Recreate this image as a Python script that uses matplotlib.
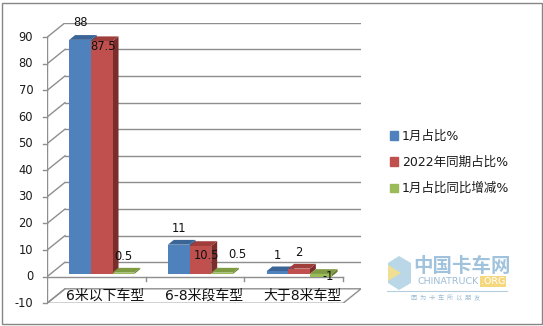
import matplotlib

matplotlib.use("Agg")
import matplotlib.pyplot as plt
from matplotlib.patches import Polygon, Patch, Rectangle

plt.rcParams["font.family"] = ["DejaVu Sans", "Noto Sans CJK SC"]

# data
categories = ["6米以下车型", "6-8米段车型", "大于8米车型"]
series_names = ["1月占比%", "2022年同期占比%", "1月占比同比增减%"]
share_jan = [88, 11, 1]
share_2022 = [87.5, 10.5, 2]
share_change = [0.5, 0.5, -1]
y_ticks = list(range(-10, 91, 10))

# label placement as Excel put them (dx in category units, dy in value units)
label_offsets = [
    [(0, 7.4), (0, 7.2), (0, 6.8)],
    [(0.01, -1.0), (0.06, -2.7), (0, 7.0)],
    [(0, 7.0), (0.155, 8.0), (0.08, 1.0)],
]

# colours: front, top, side
C_BLUE = ("#4F81BD", "#3C6597", "#2F527D")
C_RED = ("#C0504D", "#A03E3B", "#7A2D2B")
C_GREEN = ("#9BBB59", "#7F9B42", "#627A30")
GRID = "#8E8E8E"

# oblique depth of the box, in data units
DX, DY = 0.1824, 5.45
F0, F1 = 0.19, 0.52        # bar front/back depth fraction
BAR_W, BAR_X0 = 0.22, 0.19


def fx(px):
    return px / 543


def fy(py):
    return 1 - py / 326


fig = plt.figure(figsize=(5.43, 3.26), dpi=100)
ax = fig.add_axes([fx(47), fy(303.3), 314 / 543, 280.5 / 326])
ax.set_xlim(0, 3 + DX)
ax.set_ylim(-10, 90 + DY)
ax.axis("off")

# outer chart border
fig.patches.append(Rectangle((fx(1.5), fy(323.5)), 540 / 543, 321 / 326,
                             transform=fig.transFigure, fill=False,
                             ec="#868686", lw=1.0))

n = len(categories)
# floor at the axis minimum
ax.add_patch(Polygon([(0, -10), (n, -10), (n + DX, -10 + DY), (DX, -10 + DY)],
                     closed=True, fc="white", ec=GRID, lw=1.0, zorder=1))
# back wall grid + side wall diagonals + value axis ticks
for v in y_ticks:
    if v > -10:
        ax.plot([DX, n + DX], [v + DY, v + DY], color=GRID, lw=1.0, zorder=1)
    ax.plot([0, DX], [v, v + DY], color=GRID, lw=1.0, zorder=1)
    ax.plot([-0.04, 0], [v, v], color=GRID, lw=1.0, zorder=1, clip_on=False)
    ax.text(-0.14, v, str(v), ha="right", va="center", fontsize=8.3,
            color="#1a1a1a")
ax.plot([0, 0], [-10, 90], color=GRID, lw=1.0, zorder=1)
# category axis at zero with boundary ticks
ax.plot([0, n], [0, 0], color=GRID, lw=1.0, zorder=1)
for i in range(1, n + 1):
    ax.plot([i, i], [0, -1.5], color=GRID, lw=1.0, zorder=1)
for i, cat in enumerate(categories):
    ax.text(i + 0.5 + 0.5 * DX, -10 + 0.5 * DY, cat, ha="center", va="center",
            fontsize=10, color="#111111", zorder=2)

# 3D-looking columns
all_series = [share_jan, share_2022, share_change]
colors = [C_BLUE, C_RED, C_GREEN]
z = 3
for s, (vals, col) in enumerate(zip(all_series, colors)):
    for i, v in enumerate(vals):
        x0 = i + BAR_X0 + s * BAR_W
        x1 = x0 + BAR_W
        lo, hi = min(v, 0), max(v, 0)
        a, b = F0 * DX, F1 * DX
        c, d = F0 * DY, F1 * DY
        ax.add_patch(Polygon([(x1 + a, lo + c), (x1 + b, lo + d),
                              (x1 + b, hi + d), (x1 + a, hi + c)],
                             closed=True, fc=col[2], ec="none", zorder=z))
        ax.add_patch(Polygon([(x0 + a, hi + c), (x1 + a, hi + c),
                              (x1 + b, hi + d), (x0 + b, hi + d)],
                             closed=True, fc=col[1], ec="none", zorder=z))
        ax.bar(x0 + a, hi - lo, width=BAR_W, bottom=lo + c, align="edge",
               color=col[0], zorder=z)
        z += 1

for s, vals in enumerate(all_series):
    for i, v in enumerate(vals):
        cx = i + BAR_X0 + s * BAR_W + BAR_W / 2 + F0 * DX
        ox, oy = label_offsets[s][i]
        ax.text(cx + ox, v + oy, f"{v:g}", ha="center", va="center",
                fontsize=8.3, color="#111111", zorder=20)

# legend
handles = [Patch(color=c[0]) for c in colors]
leg = fig.legend(handles, series_names, loc="center left",
                 bbox_to_anchor=(fx(390), fy(162.5)), frameon=False,
                 fontsize=9, handlelength=0.65, handleheight=0.65,
                 handletextpad=0.3, labelspacing=1.05, borderpad=0,
                 borderaxespad=0)
for t in leg.get_texts():
    t.set_color("#1a1a1a")

# chinatruck watermark
fig.patches.append(Polygon([(fx(388), fy(263)), (fx(399), fy(256)),
                            (fx(411), fy(263)), (fx(411), fy(283)),
                            (fx(399), fy(290)), (fx(388), fy(283))],
                           closed=True, transform=fig.transFigure,
                           fc="#A9CDE3", ec="none", alpha=0.8))
fig.patches.append(Polygon([(fx(388), fy(265)), (fx(401), fy(273)),
                            (fx(388), fy(281))],
                           closed=True, transform=fig.transFigure,
                           fc="#F7E08A", ec="none", alpha=0.9))
fig.text(fx(462), fy(266), "中国卡车网", ha="center", va="center",
         fontsize=14, color="#8FB8D6", family=["Noto Sans CJK SC"],
         fontweight="bold", alpha=0.85)
fig.text(fx(417), fy(281.5), "CHINATRUCK", ha="left", va="center",
         fontsize=6.8, color="#9DBCD4")
fig.text(fx(481), fy(281.5), ".ORG", ha="left", va="center",
         fontsize=6.8, color="white",
         bbox=dict(boxstyle="square,pad=0.1", fc="#F5D77E", ec="none"))
fig.lines.append(plt.Line2D([fx(387), fx(507)], [fy(291), fy(291)],
                            transform=fig.transFigure, color="#B5CFE0", lw=0.8))
fig.text(fx(446), fy(298), "因  为  卡  车  所  以  朋  友", ha="center",
         va="center", fontsize=4.5, color="#9DBCD4",
         family=["Noto Sans CJK SC"])

fig.savefig("out.png", dpi=100)
